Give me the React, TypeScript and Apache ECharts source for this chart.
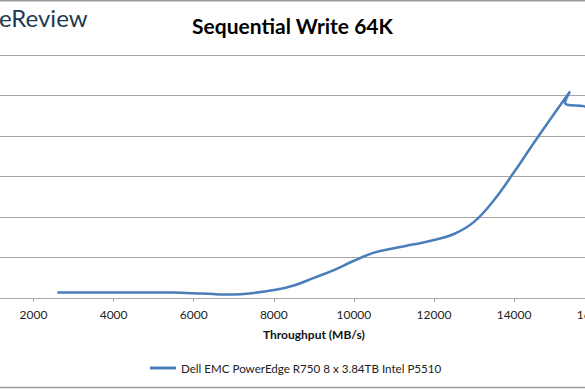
import React, { useEffect, useRef } from "react";
import * as echarts from "echarts";

// Throughput (MB/s)
const throughput = [2594, 4000, 5500, 6000, 6500, 7000, 7500, 8000, 8500, 9000, 9500, 10000, 10500, 11000, 11500, 12000, 12500, 13000, 13500, 14000, 14500, 15000, 15396, 15271, 15770, 16600];
// Average latency (ms) (axis labels are cropped away)
const latency = [1.38, 1.38, 1.36, 1.16, 0.96, 0.87, 1.26, 1.95, 3.07, 4.97, 6.9, 9.2, 11.2, 12.3, 13.25, 14.3, 15.8, 18.8, 24.2, 31.1, 38.4, 45.5, 51.0, 48.2, 47.3, 45.5];

const seriesName = "Dell EMC PowerEdge R750 8 x 3.84TB Intel P5510";
const chartTitle = "Sequential Write 64K";
const xAxisName = "Throughput (MB/s)";
const logoText = "eReview";

const xMin = 0;
const xMax = 18000;
const xStep = 2000;
const yMin = 0;
const yMax = 60;
const yStep = 10;

// the chart canvas is wider than the window and shifted left, so that the
// plot is cropped the way the reference is
const SHIFT = 100;
const CANVAS_W = 800;

export default function App() {
  const ref = useRef<HTMLDivElement>(null);
  useEffect(() => {
    if (!ref.current) return;
    const chart = echarts.init(ref.current, undefined, { renderer: "svg" });
    const font = "Lato, 'Open Sans', sans-serif";
    const cx = SHIFT + 292.5;
    chart.setOption({
      animation: false,
      backgroundColor: "#ffffff",
      textStyle: { fontFamily: font },
      legend: {
        data: [{ name: seriesName, icon: "rect" }],
        left: SHIFT + 150,
        top: 362,
        padding: 0,
        itemWidth: 26,
        itemHeight: 3,
        textStyle: { fontFamily: font, fontSize: 11.6, color: "#222222" },
      },
      grid: { left: SHIFT - 46.6, right: CANVAS_W - (SHIFT + 674.3), top: 55, bottom: 92, containLabel: false },
      xAxis: {
        type: "value",
        min: xMin,
        max: xMax,
        interval: xStep,
        name: xAxisName,
        nameLocation: "middle",
        nameGap: 30,
        nameTextStyle: { fontFamily: font, fontSize: 12, fontWeight: "bold", color: "#111111" },
        axisLine: { show: true, lineStyle: { color: "#a6a6a6", width: 1 } },
        axisTick: { show: true, length: 4, lineStyle: { color: "#a6a6a6" } },
        axisLabel: {
          fontFamily: font,
          fontSize: 12,
          color: "#222222",
          margin: 10,
          formatter: (v: number) => (v === xMin || v === xMax ? "" : String(v)),
        },
        splitLine: { show: false },
      },
      yAxis: {
        type: "value",
        min: yMin,
        max: yMax,
        interval: yStep,
        axisLine: { show: false },
        axisTick: { show: false },
        axisLabel: { show: false },
        splitLine: { show: true, lineStyle: { color: "#a6a6a6", width: 1 } },
      },
      series: [
        {
          name: seriesName,
          type: "line",
          data: throughput.map((t, i) => [t, latency[i]]),
          smooth: 0.4,
          showSymbol: false,
          symbol: "none",
          lineStyle: { color: "#4a7ebb", width: 2.5 },
          itemStyle: { color: "#4a7ebb" },
        },
      ],
      graphic: [
        {
          type: "text",
          x: cx,
          y: 25,
          style: {
            text: chartTitle,
            fontFamily: font,
            fontSize: 21,
            fontWeight: "bold",
            fill: "#000000",
            align: "center",
            verticalAlign: "middle",
          },
        },
        {
          type: "text",
          x: SHIFT - 1,
          y: 5,
          style: { text: logoText, fontFamily: font, fontSize: 24, fill: "#1e3a4f" },
        },
        {
          type: "line",
          shape: { x1: SHIFT, y1: 0.75, x2: SHIFT + 585, y2: 0.75 },
          style: { stroke: "#9a9a9a", lineWidth: 1.5 },
        },
        {
          type: "line",
          shape: { x1: SHIFT, y1: 387.5, x2: SHIFT + 585, y2: 387.5 },
          style: { stroke: "#9a9a9a", lineWidth: 1.5 },
        },
      ],
    });
    return () => chart.dispose();
  }, []);
  return (
    <div style={{ position: "fixed", left: 0, top: 0, width: 585, height: 390, overflow: "hidden", background: "#fff" }}>
      <div
        ref={ref}
        style={{ position: "absolute", left: -SHIFT, top: 0, width: CANVAS_W, height: 390 }}
      />
    </div>
  );
}
